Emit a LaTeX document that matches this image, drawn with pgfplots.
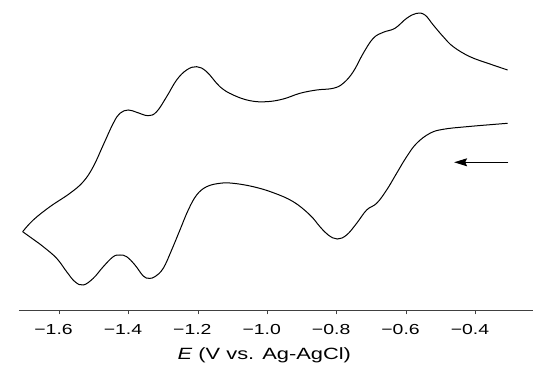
\documentclass[border=0pt]{standalone}
\usepackage{pgfplots}
\pgfplotsset{compat=1.18}
\usepackage{fontspec}
\setmainfont{Liberation Sans}
\usepackage{graphicx}
\usetikzlibrary{arrows.meta}
\newcommand{\sx}[1]{\scalebox{1.34}[1]{#1}}
\begin{document}
\begin{tikzpicture}
\useasboundingbox (-19pt,-55.5pt) rectangle (514pt,310.5pt);
\begin{axis}[at={(0pt,0pt)}, anchor=south west, scale only axis,
  width=514pt, height=310.5pt,
  xmin=-1.716, xmax=-0.2347, ymin=0, ymax=310.5,
  axis x line=bottom, axis y line=none,
  x axis line style={-, black!75, line width=0.8pt},
  xtick={-1.6,-1.4,-1.2,-1.0,-0.8,-0.6,-0.4},
  xticklabels={\sx{\llap{−}1.6},\sx{\llap{−}1.4},\sx{\llap{−}1.2},\sx{\llap{−}1.0},\sx{\llap{−}0.8},\sx{\llap{−}0.6},\sx{\llap{−}0.4}},
  tick align=outside, major tick length=4pt,
  tick style={black!75, line width=0.8pt},
  xticklabel style={font=\fontsize{14.5}{15}\selectfont, anchor=north, inner sep=0pt, yshift=-9.8pt},
  xlabel={\sx{\textit{E} (V vs. Ag-AgCl)}},
  xlabel style={at={(axis description cs:0.4772,0)}, anchor=base, inner sep=0pt, yshift=-49.5pt, font=\fontsize{16.3}{17}\selectfont},
  clip=false,
]
\addplot[black, line width=1pt, smooth, tension=0.65] coordinates {
(-0.3078,187.2) (-0.4259,183.8) (-0.4934,181.2) (-0.5317,177.2) (-0.570,167.2)
(-0.5988,153.8) (-0.6277,137.2) (-0.6565,120.5) (-0.6853,107.2) (-0.7141,100.5)
(-0.7429,87.2) (-0.7718,75.5) (-0.7988,71.5) (-0.8248,75.5) (-0.8487,83.8)
(-0.8775,95.5) (-0.9256,108.8) (-0.9833,117.8) (-1.0409,123.8) (-1.0986,127.2)
(-1.1369,127.2) (-1.1752,123.8) (-1.204,115.5) (-1.2282,100.5) (-1.2522,80.5)
(-1.2761,60.5) (-1.3003,42.2) (-1.3242,33.8) (-1.3415,32.2) (-1.3579,34.5)
(-1.3818,45.5) (-1.4058,53.8) (-1.4251,55.5) (-1.4444,53.8) (-1.4732,43.8)
(-1.502,32.2) (-1.5308,25.5) (-1.5548,28.8) (-1.5787,38.8) (-1.6075,52.2)
(-1.6461,63.8) (-1.6749,71.2) (-1.7055,78.8)
};
\addplot[black, line width=1pt, smooth, tension=0.65] coordinates {
(-1.7055,78.8) (-1.6749,90.5) (-1.6268,103.8) (-1.5692,117.2) (-1.5308,128.8)
(-1.502,143.8) (-1.4732,165.5) (-1.4444,187.2) (-1.4251,197.2) (-1.4012,200.5)
(-1.3769,198.2) (-1.3435,194.8) (-1.3193,198.8) (-1.2905,213.8) (-1.2617,230.5)
(-1.2329,240.5) (-1.204,243.8) (-1.1752,238.8) (-1.1369,223.8) (-1.0986,215.5)
(-1.0504,209.8) (-1.0023,208.8) (-0.9545,211.5) (-0.9063,217.2) (-0.8582,220.5)
(-0.8104,222.2) (-0.7816,227.2) (-0.7527,238.8) (-0.7239,257.2) (-0.6951,272.2)
(-0.6663,278.2) (-0.6326,282.2) (-0.5988,292.2) (-0.570,297.2) (-0.5461,295.5)
(-0.5222,285.5) (-0.4934,273.8) (-0.4646,263.8) (-0.4164,253.8) (-0.3588,246.5)
(-0.3078,240.5)
};
\draw[-{Stealth[length=13pt,width=8pt,inset=2pt]}, line width=1pt] (axis cs:-0.306,148.2) -- (axis cs:-0.462,148.2);
\end{axis}
\end{tikzpicture}
\end{document}
